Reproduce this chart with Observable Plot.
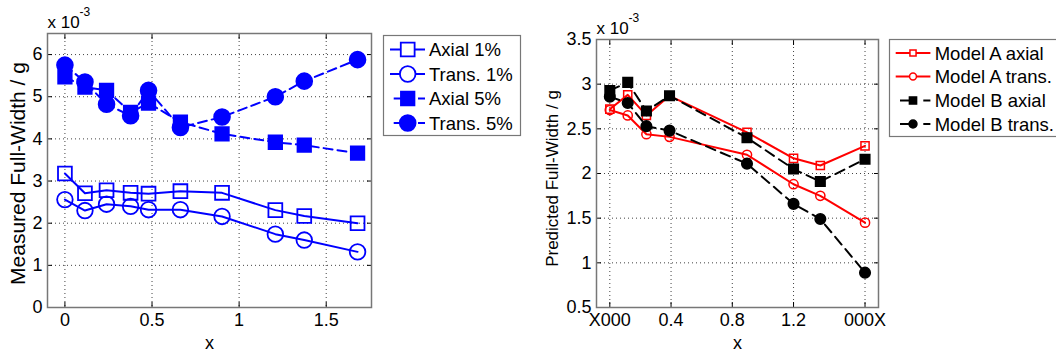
<!DOCTYPE html>
<html><head><meta charset="utf-8">
<script src="https://cdn.jsdelivr.net/npm/d3@7"></script>
<script src="https://cdn.jsdelivr.net/npm/@observablehq/plot@0.6"></script>
<style>
html,body{margin:0;padding:0;background:#fff;overflow:hidden}
#wrap{position:relative;width:1056px;height:353px;overflow:hidden;font-family:"Liberation Sans",Arial,sans-serif;background:#fff}
.abs{position:absolute}
</style></head><body><div id="wrap"></div>
<script>
// ---------- Left panel data (values in units of 10^-3 g) ----------
const xMeasured = [0, 0.115, 0.239, 0.377, 0.48, 0.663, 0.902, 1.208, 1.374, 1.68];
const axial1 = [3.18, 2.71, 2.78, 2.72, 2.70, 2.76, 2.72, 2.31, 2.17, 2.00];
const trans1 = [2.56, 2.30, 2.45, 2.40, 2.32, 2.32, 2.16, 1.74, 1.60, 1.32];
const axial5 = [5.47, 5.23, 5.15, 4.63, 4.85, 4.40, 4.12, 3.92, 3.85, 3.66];
const trans5 = [5.75, 5.35, 4.82, 4.55, 5.15, 4.27, 4.52, 5.00, 5.37, 5.88];
const seriesNamesL = ["Axial 1%", "Trans. 1%", "Axial 5%", "Trans. 5%"];
const xTicksL = [0, 0.5, 1, 1.5];
const yTicksL = [0, 1, 2, 3, 4, 5, 6];

// ---------- Right panel data (values in units of 10^-3 g) ----------
const xPredicted = [0, 0.117, 0.239, 0.39, 0.896, 1.2, 1.375, 1.667];
const modelAaxial = [2.72, 2.88, 2.65, 2.87, 2.46, 2.17, 2.09, 2.31];
const modelAtrans = [2.71, 2.65, 2.44, 2.41, 2.21, 1.88, 1.75, 1.45];
const modelBaxial = [2.93, 3.02, 2.70, 2.87, 2.40, 2.05, 1.91, 2.16];
const modelBtrans = [2.86, 2.79, 2.53, 2.48, 2.11, 1.66, 1.49, 0.89];
const seriesNamesR = ["Model A axial", "Model A trans.", "Model B axial", "Model B trans."];
const xTicksR = [0, 0.4, 0.8, 1.2, 1.667];
const xTickLabelsR = ["X000", "0.4", "0.8", "1.2", "000X"];
const yTicksR = [0.5, 1, 1.5, 2, 2.5, 3, 3.5];

const exponentText = "x 10";
const exponentSup = "-3";
const yLabelL = "Measured Full-Width / g";
const yLabelR = "Predicted Full-Width / g";
const xLabel = "x";

// ---------- styles ----------
const FONT = '"Liberation Sans", Arial, sans-serif';
const stylesL = [
  {color: "#0000ff", dash: null, symbol: "square", filled: false, r: 7.8},
  {color: "#0000ff", dash: null, symbol: "circle", filled: false, r: 7.8},
  {color: "#0000ff", dash: "9,5", symbol: "square", filled: true, r: 7.6},
  {color: "#0000ff", dash: "9,5", symbol: "circle", filled: true, r: 7.9}
];
const stylesR = [
  {color: "#ff0000", dash: null, symbol: "square", filled: false, r: 4.6},
  {color: "#ff0000", dash: null, symbol: "circle", filled: false, r: 4.6},
  {color: "#000000", dash: "10,6", symbol: "square", filled: true, r: 5.4},
  {color: "#000000", dash: "10,6", symbol: "circle", filled: true, r: 5.3}
];

function toRows(xs, ys, name) { return xs.map((x, i) => ({x, y: ys[i], series: name})); }
const rowsL = [axial1, trans1, axial5, trans5].map((ys, i) => toRows(xMeasured, ys, seriesNamesL[i]));
const rowsR = [modelAaxial, modelAtrans, modelBaxial, modelBtrans].map((ys, i) => toRows(xPredicted, ys, seriesNamesR[i]));

const gridStyle = {stroke: "#222", strokeOpacity: 0.85, strokeDasharray: "1,3", strokeWidth: 1};

function panel({width, mLeft, mRight, mTop, mBottom, xDomain, yDomain, xTicks, xFmt, yTicks, yLabel, yLabelDx, yLabelDy, yLabelSize, rows, styles, lineWidth, markerStroke}) {
  const marks = [
    Plot.gridX(xTicks, gridStyle),
    Plot.gridY(yTicks, gridStyle),
    // inward ticks (MATLAB style)
    Plot.axisX(xTicks, {anchor: "bottom", tickSize: 5, dy: -5, tickFormat: () => "", label: null, stroke: "#000"}),
    Plot.axisX(xTicks, {anchor: "top", tickSize: 5, dy: 5, tickFormat: () => "", label: null, stroke: "#000"}),
    Plot.axisY(yTicks, {anchor: "left", tickSize: 5, dx: 5, tickFormat: () => "", label: null, stroke: "#000"}),
    Plot.axisY(yTicks, {anchor: "right", tickSize: 5, dx: -5, tickFormat: () => "", label: null, stroke: "#000"}),
    Plot.frame({stroke: "#777", strokeWidth: 1.5}),
    Plot.axisX(xTicks, {anchor: "bottom", tickSize: 0, tickPadding: 6, tickFormat: xFmt, label: null, fontSize: 18}),
    Plot.axisY(yTicks, {anchor: "left", tickSize: 0, tickPadding: 5, tickFormat: d => String(d), label: null, fontSize: 18}),
    Plot.text([yLabel], {frameAnchor: "left", textAnchor: "middle", lineAnchor: "middle", rotate: -90, dx: yLabelDx, dy: yLabelDy, fontSize: yLabelSize, text: d => d}),
    Plot.text([xLabel], {frameAnchor: "bottom", textAnchor: "middle", lineAnchor: "middle", dy: 36, fontSize: 18, text: d => d}),
    Plot.text([exponentText], {frameAnchor: "top-left", textAnchor: "start", lineAnchor: "middle", dy: -11, fontSize: 17, text: d => d}),
    Plot.text([exponentSup], {frameAnchor: "top-left", textAnchor: "start", lineAnchor: "middle", dx: 32, dy: -21, fontSize: 12, text: d => d})
  ];
  rows.forEach((data, i) => {
    const s = styles[i];
    marks.push(Plot.line(data, {x: "x", y: "y", stroke: s.color, strokeWidth: lineWidth, strokeDasharray: s.dash || undefined}));
    marks.push(Plot.dot(data, {x: "x", y: "y", symbol: s.symbol, r: s.r,
      stroke: s.color, strokeWidth: markerStroke, fill: s.filled ? s.color : "none"}));
  });
  return Plot.plot({
    width, height: 353,
    marginLeft: mLeft, marginRight: mRight, marginTop: mTop, marginBottom: mBottom,
    x: {domain: xDomain, label: null},
    y: {domain: yDomain, label: null},
    style: {fontFamily: FONT, fontSize: "18px", background: "transparent", overflow: "visible", color: "#000"},
    marks
  });
}

function legend({names, styles, width, height, rowY, lineX1, lineX2, markX, dashL, dashR, textX, scale, stroke, fontSize}) {
  const svg = d3.create("svg").attr("width", width).attr("height", height)
    .style("overflow", "visible").style("font-family", FONT);
  svg.append("rect").attr("x", 0.5).attr("y", 0.5).attr("width", width - 1).attr("height", height - 1)
    .attr("fill", "#fff").attr("stroke", "#777").attr("stroke-width", 1.2);
  names.forEach((name, i) => {
    const s = styles[i], y = rowY[i];
    const g = svg.append("g");
    const segs = s.dash ? [[dashL, markX], [dashR, lineX2]] : [[lineX1, lineX2]];
    segs.forEach(([a, b]) => g.append("line").attr("x1", a).attr("x2", b).attr("y1", y).attr("y2", y)
      .attr("stroke", s.color).attr("stroke-width", 2));
    const sym = d3.symbol(s.symbol === "square" ? d3.symbolSquare : d3.symbolCircle, Math.PI * (s.r * scale) ** 2);
    g.append("path").attr("d", sym()).attr("transform", `translate(${markX},${y})`)
      .attr("fill", s.filled ? s.color : "#fff").attr("stroke", s.color).attr("stroke-width", stroke);
    g.append("text").attr("x", textX).attr("y", y).attr("dy", "0.36em").attr("font-size", fontSize).text(name);
  });
  return svg.node();
}

const wrap = document.getElementById("wrap");
function place(node, left, top) {
  const d = document.createElement("div");
  d.className = "abs"; d.style.left = left + "px"; d.style.top = top + "px";
  d.appendChild(node); wrap.appendChild(d);
}

place(panel({width: 380, mLeft: 47, mRight: 9, mTop: 33, mBottom: 46,
  xDomain: [-0.1, 1.76], yDomain: [0, 6.5], xTicks: xTicksL, xFmt: d => String(d),
  yTicks: yTicksL, yLabel: yLabelL, yLabelDx: -29, yLabelDy: 3, yLabelSize: 21,
  rows: rowsL, styles: stylesL, lineWidth: 2, markerStroke: 1.8}), 0, 0);

place(panel({width: 365, mLeft: 76, mRight: 7, mTop: 39, mBottom: 46,
  xDomain: [-0.087, 1.755], yDomain: [0.5, 3.5], xTicks: xTicksR, xFmt: (d, i) => xTickLabelsR[i],
  yTicks: yTicksR, yLabel: yLabelR, yLabelDx: -44, yLabelDy: 5, yLabelSize: 17,
  rows: rowsR, styles: stylesR, lineWidth: 2, markerStroke: 1.5}), 520, 0);

place(legend({names: seriesNamesL, styles: stylesL, width: 138, height: 101,
  rowY: [14.5, 39, 63.5, 88], lineX1: 7, lineX2: 42, markX: 24.7, dashL: 10.7, dashR: 35, textX: 46, scale: 1.0, stroke: 1.8, fontSize: 18.5}), 383, 35);

place(legend({names: seriesNamesR, styles: stylesR, width: 200, height: 98,
  rowY: [14, 37.5, 61.5, 85], lineX1: 6.7, lineX2: 41.4, markX: 24, dashL: 11, dashR: 34.3, textX: 45.7, scale: 0.75, stroke: 1.5, fontSize: 18.5}), 889, 39);
</script></body></html>
